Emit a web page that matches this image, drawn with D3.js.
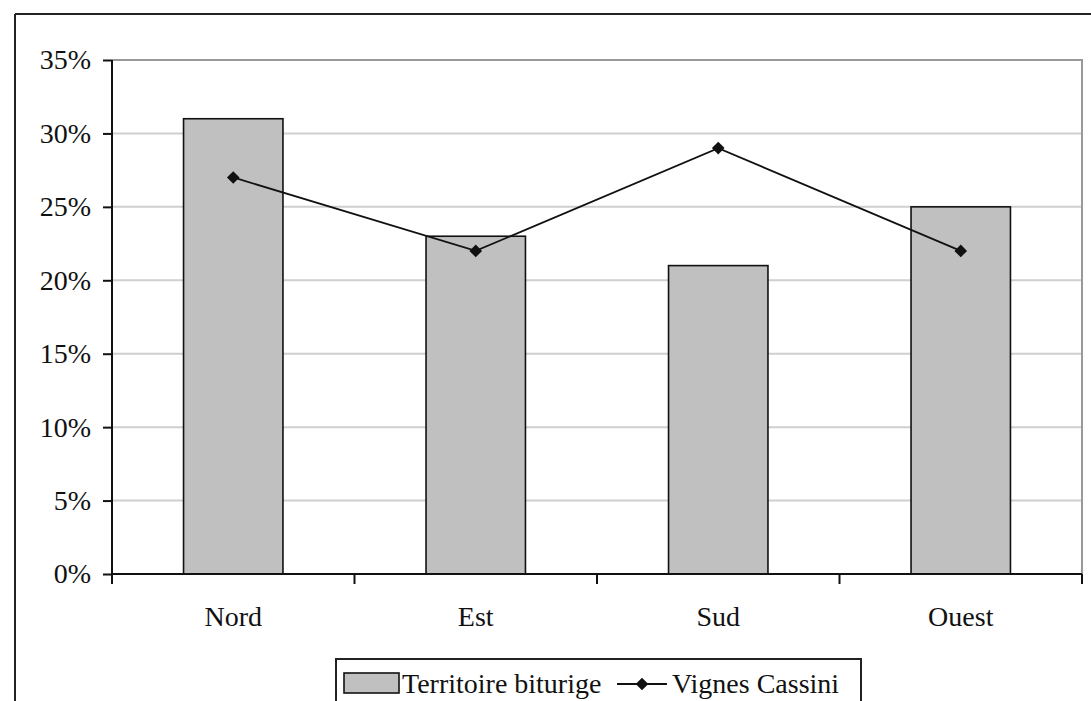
<!DOCTYPE html>
<html><head><meta charset="utf-8">
<script src="https://cdn.jsdelivr.net/npm/d3@7/dist/d3.min.js"></script>
<style>body{margin:0;background:#fff}svg{display:block}</style>
</head><body>
<script>
const categories = ["Nord", "Est", "Sud", "Ouest"];
const territoire = [0.31, 0.23, 0.21, 0.25];
const vignes = [0.27, 0.22, 0.29, 0.22];
const yTicks = [0, 0.05, 0.10, 0.15, 0.20, 0.25, 0.30, 0.35];
const seriesNames = ["Territoire biturige", "Vignes Cassini"];

const W = 1091, H = 701;
const svg = d3.select("body").append("svg").attr("width", W).attr("height", H);
const font = "'Liberation Serif', 'Times New Roman', serif";

// outer chart border
svg.append("line").attr("x1", 15).attr("x2", W).attr("y1", 14).attr("y2", 14).attr("stroke", "#222").attr("stroke-width", 2);
svg.append("line").attr("x1", 15).attr("x2", 15).attr("y1", 14).attr("y2", H).attr("stroke", "#222").attr("stroke-width", 2);

const L = 112, R = 1082, T = 60, B = 574;
const x = d3.scaleBand().domain(categories).range([L, R]).paddingInner(0).paddingOuter(0);
const y = d3.scaleLinear().domain([0, 0.35]).range([B, T]);

// gridlines
svg.append("g").selectAll("line").data(yTicks.filter(d => d > 0 && d < 0.35)).join("line")
  .attr("x1", L).attr("x2", R).attr("y1", d => y(d)).attr("y2", d => y(d))
  .attr("stroke", "#cfcfcf").attr("stroke-width", 2);
// plot border top/right
svg.append("path").attr("d", `M${L},${y(0.35)}H${R}V${B}`).attr("fill", "none").attr("stroke", "#999").attr("stroke-width", 2);

// bars
const bw = x.bandwidth() * 0.41;
svg.append("g").selectAll("rect").data(territoire).join("rect")
  .attr("x", (d, i) => x(categories[i]) + x.bandwidth() / 2 - bw / 2)
  .attr("width", bw)
  .attr("y", d => y(d)).attr("height", d => B - y(d))
  .attr("fill", "#c0c0c0").attr("stroke", "#111").attr("stroke-width", 1.6);

// y axis
const yAxis = d3.axisLeft(y).tickValues(yTicks).tickFormat(d3.format(".0%")).tickSize(9).tickPadding(12);
const gy = svg.append("g").attr("transform", `translate(${L},0)`).call(yAxis).attr("font-family", font);
gy.select(".domain").attr("stroke", "#111").attr("stroke-width", 2).attr("d", `M0,${T}V${B}`);
gy.selectAll(".tick line").attr("stroke", "#111").attr("stroke-width", 2);
gy.selectAll("text").attr("font-family", font).attr("font-size", 28).attr("fill", "#111");

// x axis
const xAxis = d3.axisBottom(x).tickSize(0).tickPadding(32);
const gx = svg.append("g").attr("transform", `translate(0,${B})`).call(xAxis).attr("font-family", font);
gx.select(".domain").attr("stroke", "#111").attr("stroke-width", 2).attr("d", `M${L},0H${R}`);
gx.selectAll("text").attr("font-family", font).attr("font-size", 28).attr("fill", "#111");
// category boundary ticks
const bounds = categories.map(c => x(c)).concat([R]);
gx.append("g").selectAll("line").data(bounds).join("line")
  .attr("x1", d => d).attr("x2", d => d).attr("y1", 0).attr("y2", 10)
  .attr("stroke", "#111").attr("stroke-width", 2);

// line series
const line = d3.line().x((d, i) => x(categories[i]) + x.bandwidth() / 2).y(d => y(d));
svg.append("path").datum(vignes).attr("d", line).attr("fill", "none").attr("stroke", "#111").attr("stroke-width", 1.8);
const diamond = d3.symbol().type(d3.symbolSquare).size(80);
svg.append("g").selectAll("path").data(vignes).join("path")
  .attr("transform", (d, i) => `translate(${x(categories[i]) + x.bandwidth() / 2},${y(d)}) rotate(45)`)
  .attr("d", diamond).attr("fill", "#111");

// legend
const lg = svg.append("g");
lg.append("rect").attr("x", 336).attr("y", 659).attr("width", 525).attr("height", 60)
  .attr("fill", "#fff").attr("stroke", "#222").attr("stroke-width", 2);
lg.append("rect").attr("x", 344).attr("y", 673).attr("width", 55).attr("height", 20)
  .attr("fill", "#c0c0c0").attr("stroke", "#111").attr("stroke-width", 1.6);
lg.append("text").attr("x", 402).attr("y", 693).text(seriesNames[0])
  .attr("font-family", font).attr("font-size", 28).attr("fill", "#111");
lg.append("line").attr("x1", 617).attr("x2", 667).attr("y1", 684).attr("y2", 684).attr("stroke", "#111").attr("stroke-width", 1.8);
lg.append("path").attr("transform", "translate(642,684) rotate(45)").attr("d", diamond).attr("fill", "#111");
lg.append("text").attr("x", 672).attr("y", 693).text(seriesNames[1])
  .attr("font-family", font).attr("font-size", 28).attr("fill", "#111");
</script>
</body></html>
